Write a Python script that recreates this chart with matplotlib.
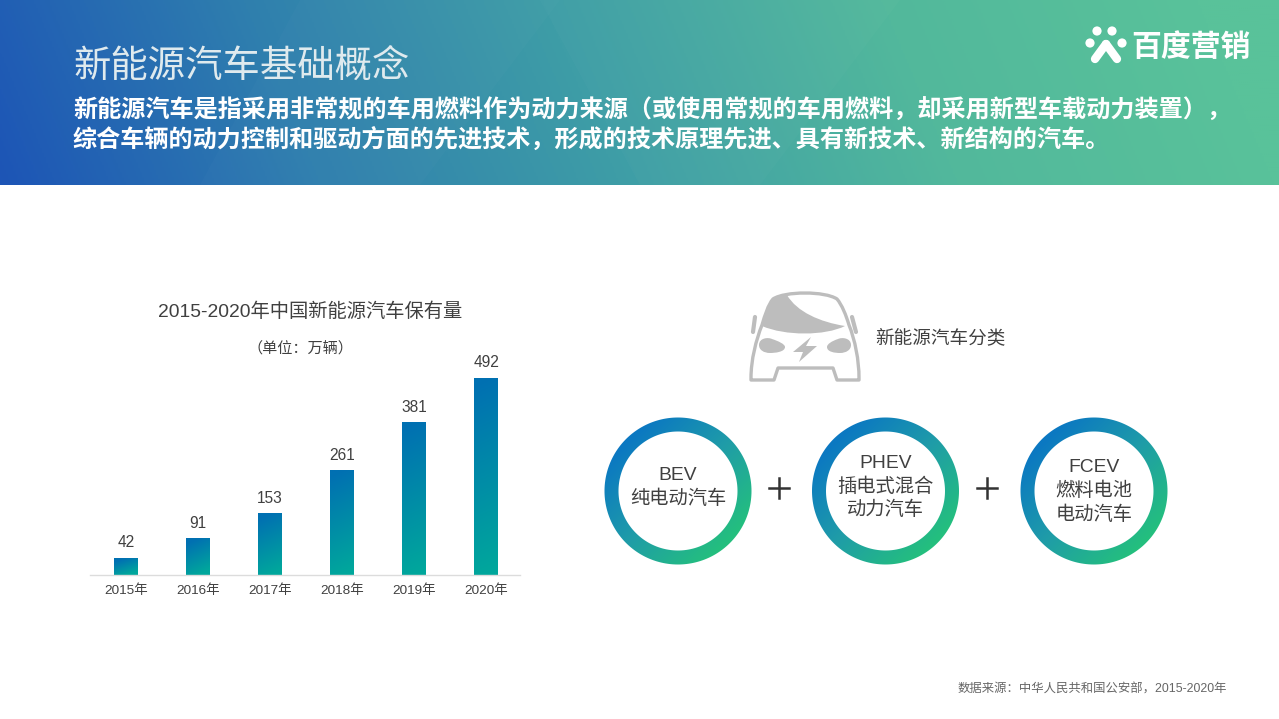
import numpy as np
import matplotlib
matplotlib.use("Agg")
import matplotlib.pyplot as plt
from matplotlib.colors import LinearSegmentedColormap
from matplotlib.patches import Circle, PathPatch, Polygon
from matplotlib.path import Path

CJK = ['Noto Sans CJK SC', 'DejaVu Sans']
LAT = ['Liberation Sans', 'Noto Sans CJK SC', 'DejaVu Sans']
plt.rcParams['font.family'] = CJK
plt.rcParams['axes.unicode_minus'] = False

years = ['2015年', '2016年', '2017年', '2018年', '2019年', '2020年']
stock = [42, 91, 153, 261, 381, 492]
title = '新能源汽车基础概念'
sub1 = '新能源汽车是指采用非常规的车用燃料作为动力来源（或使用常规的车用燃料，却采用新型车载动力装置），'
sub2 = '综合车辆的动力控制和驱动方面的先进技术，形成的技术原理先进、具有新技术、新结构的汽车。'
chart_title = '2015-2020年中国新能源汽车保有量'
unit = '（单位：万辆）'
source = '数据来源：中华人民共和国公安部，2015-2020年'
ring_labels = ['BEV\n纯电动汽车', 'PHEV\n插电式混合\n动力汽车', 'FCEV\n燃料电池\n电动汽车']
ring_x = [678, 885.5, 1094]
ring_text_y = [487.5, 487, 491.5]

W, H = 1279, 719
fig = plt.figure(figsize=(W / 100, H / 100), dpi=100, facecolor='white')
bg = fig.add_axes([0, 0, 1, 1])
bg.set_xlim(0, W); bg.set_ylim(H, 0); bg.axis('off')

# header gradient
hc = LinearSegmentedColormap.from_list('h', ['#1d55b6', '#2f7fae', '#3f9fa6', '#52b89c', '#59c29a'])
xx, yy = np.meshgrid(np.linspace(0, 1, 640), np.linspace(0, 1, 100))
bg.imshow(np.clip(xx - 0.06 * (yy - .5) + .03, 0, 1), cmap=hc, extent=[0, W, 185, 0], aspect='auto', vmin=0, vmax=1, zorder=0)
bg.add_patch(Polygon([[540, 0], [900, 0], [760, 185], [640, 185]], fc='white', alpha=.02, ec='none', zorder=1))
bg.add_patch(Polygon([[300, 0], [560, 0], [420, 185], [200, 185]], fc='white', alpha=.015, ec='none', zorder=1))

bg.text(73, 66, title, color='#dfeaee', fontsize=26.9, va='center', ha='left', fontweight='light')
bg.text(73, 111, sub1, color='white', fontsize=17.35, va='center', ha='left', fontweight='bold')
bg.text(73, 140, sub2, color='white', fontsize=17.35, va='center', ha='left', fontweight='bold')

# logo
for cx, cy, r in [(1090, 43, 4.6), (1097, 31, 4.6), (1112, 31, 4.6), (1122, 43, 4.6)]:
    bg.add_patch(Circle((cx, cy), r, fc='white', ec='none'))
bg.plot([1095, 1106], [59, 44], color='white', lw=6, solid_capstyle='round')
bg.plot([1106, 1117], [44, 59], color='white', lw=6, solid_capstyle='round')
bg.text(1191, 47, '百度营销', color='white', fontsize=21.5, fontweight='bold', ha='center', va='center')

# bar chart
ax = fig.add_axes([90 / W, 1 - 575 / H, 430 / W, 210 / H])
ax.patch.set_alpha(0)
for s in ['top', 'left', 'right']:
    ax.spines[s].set_visible(False)
ax.spines['bottom'].set_color('#dcdcdc')
ax.spines['bottom'].set_linewidth(1.0)
ax.set_yticks([])
ax.set_xticks(range(len(years)), years, fontsize=9.7, color='#404040', family=LAT)
ax.tick_params(axis='x', length=0, pad=7)
bc = LinearSegmentedColormap.from_list('b', ['#0070b2', '#00a79c'])
bars = ax.bar(range(len(years)), stock, width=23.5 / 72, color='none')
gy, gx = np.meshgrid(np.linspace(0, 1, 120), np.linspace(0, 1, 20), indexing='ij')
for b, v in zip(bars, stock):
    skew = min(1.0, 60 / v)
    g = np.clip(gy + skew * .45 * (gx - .5), 0, 1)
    x0, w = b.get_x(), b.get_width()
    ax.imshow(g, cmap=bc, extent=[x0, x0 + w, 0, v], aspect='auto', zorder=2, vmin=0, vmax=1)
    ax.annotate(str(v), (x0 + w / 2, v), xytext=(0, 8), textcoords='offset pixels', ha='center', va='bottom',
                fontsize=11.2, color='#404040', family=LAT)
ax.set_xlim(-0.5, 5.47)
ax.set_ylim(0, 210 / 0.4)

bg.text(310, 312, chart_title, fontsize=13.9, color='#404040', ha='center', va='center', family=LAT)
bg.text(300, 349, unit, fontsize=10.9, color='#404040', ha='center', va='center')

# car icon
gray = '#bdbdbd'
outline = Path([(751, 378),
                (751, 360), (756, 340), (762, 325),
                (765, 315), (768, 305), (773, 299),
                (785, 291), (825, 291), (837, 299),
                (842, 305), (846, 315), (849, 325),
                (855, 340), (859, 360), (859, 378),
                (859, 380), (837, 380), (833, 368), (778, 368), (774, 380), (751, 380), (751, 378)],
               [1] + [4] * 15 + [2] * 7)
bg.add_patch(PathPatch(outline, fc='none', ec=gray, lw=2.4, joinstyle='round', zorder=3))
wind = Path([(762, 326),
             (765, 315), (768, 305), (773, 299),
             (787, 295),
             (797, 312), (820, 322), (845, 326),
             (825, 336), (785, 336), (762, 326)],
            [1, 4, 4, 4, 2, 4, 4, 4, 4, 4, 4])
bg.add_patch(PathPatch(wind, fc=gray, ec='none', zorder=3))
bg.plot([755, 753], [317, 332], color=gray, lw=3, solid_capstyle='round', zorder=3)
bg.plot([852, 856], [317, 332], color=gray, lw=3, solid_capstyle='round', zorder=3)
head1 = Path([(759, 345), (759, 338), (768, 337), (772, 339), (778, 341), (785, 344), (785, 347),
              (785, 352), (775, 353), (770, 353), (764, 353), (759, 350), (759, 345)], [1] + [4] * 12)
head2 = Path([(851, 345), (851, 338), (842, 337), (838, 339), (832, 341), (827, 344), (827, 347),
              (827, 352), (835, 353), (840, 353), (846, 353), (851, 350), (851, 345)], [1] + [4] * 12)
for p in (head1, head2):
    bg.add_patch(PathPatch(p, fc=gray, ec='none', zorder=3))
bg.add_patch(Polygon([(811, 337), (793, 352), (803, 352), (799, 362), (817, 346), (806, 346)], fc=gray, ec='none', zorder=3))
bg.text(940, 338, '新能源汽车分类', fontsize=13.4, color='#404040', ha='center', va='center')

# rings
rc = LinearSegmentedColormap.from_list('r', ['#0b78c2', '#1f9ca8', '#24bf7e'])
R, r0 = 73.5, 59.5
g = np.linspace(0, 1, 200)
gxx, gyy = np.meshgrid(g, g)
ring_g = np.clip((gxx + gyy) / 2 * 1.5 - .25, 0, 1)
for label, cx, ty in zip(ring_labels, ring_x, ring_text_y):
    cy = 491
    t = np.linspace(0, 2 * np.pi, 200)
    verts = np.r_[np.c_[cx + R * np.cos(t), cy + R * np.sin(t)], np.c_[cx + r0 * np.cos(t[::-1]), cy + r0 * np.sin(t[::-1])]]
    codes = [1] + [2] * 199 + [1] + [2] * 199
    patch = PathPatch(Path(verts, codes), fc='none', ec='none')
    bg.add_patch(patch)
    im = bg.imshow(ring_g, cmap=rc, extent=[cx - R - 2, cx + R + 2, cy + R + 2, cy - R - 2], aspect='auto', zorder=2, vmin=0, vmax=1)
    im.set_clip_path(patch)
    bg.text(cx, ty, label, fontsize=13.9, color='#404040', ha='center', va='center',
            linespacing=1.36, zorder=4, family=LAT)

for cx in (778.5, 986.5):
    bg.plot([cx - 10, cx + 10], [488, 488], color='#333333', lw=1.8, zorder=4)
    bg.plot([cx, cx], [478, 498], color='#333333', lw=1.8, zorder=4)

bg.text(1227, 690, source, fontsize=8.9, color='#666666', ha='right', va='center', family=LAT)
bg.set_xlim(0, W); bg.set_ylim(H, 0)

fig.savefig('out.png', dpi=100, facecolor='white')
